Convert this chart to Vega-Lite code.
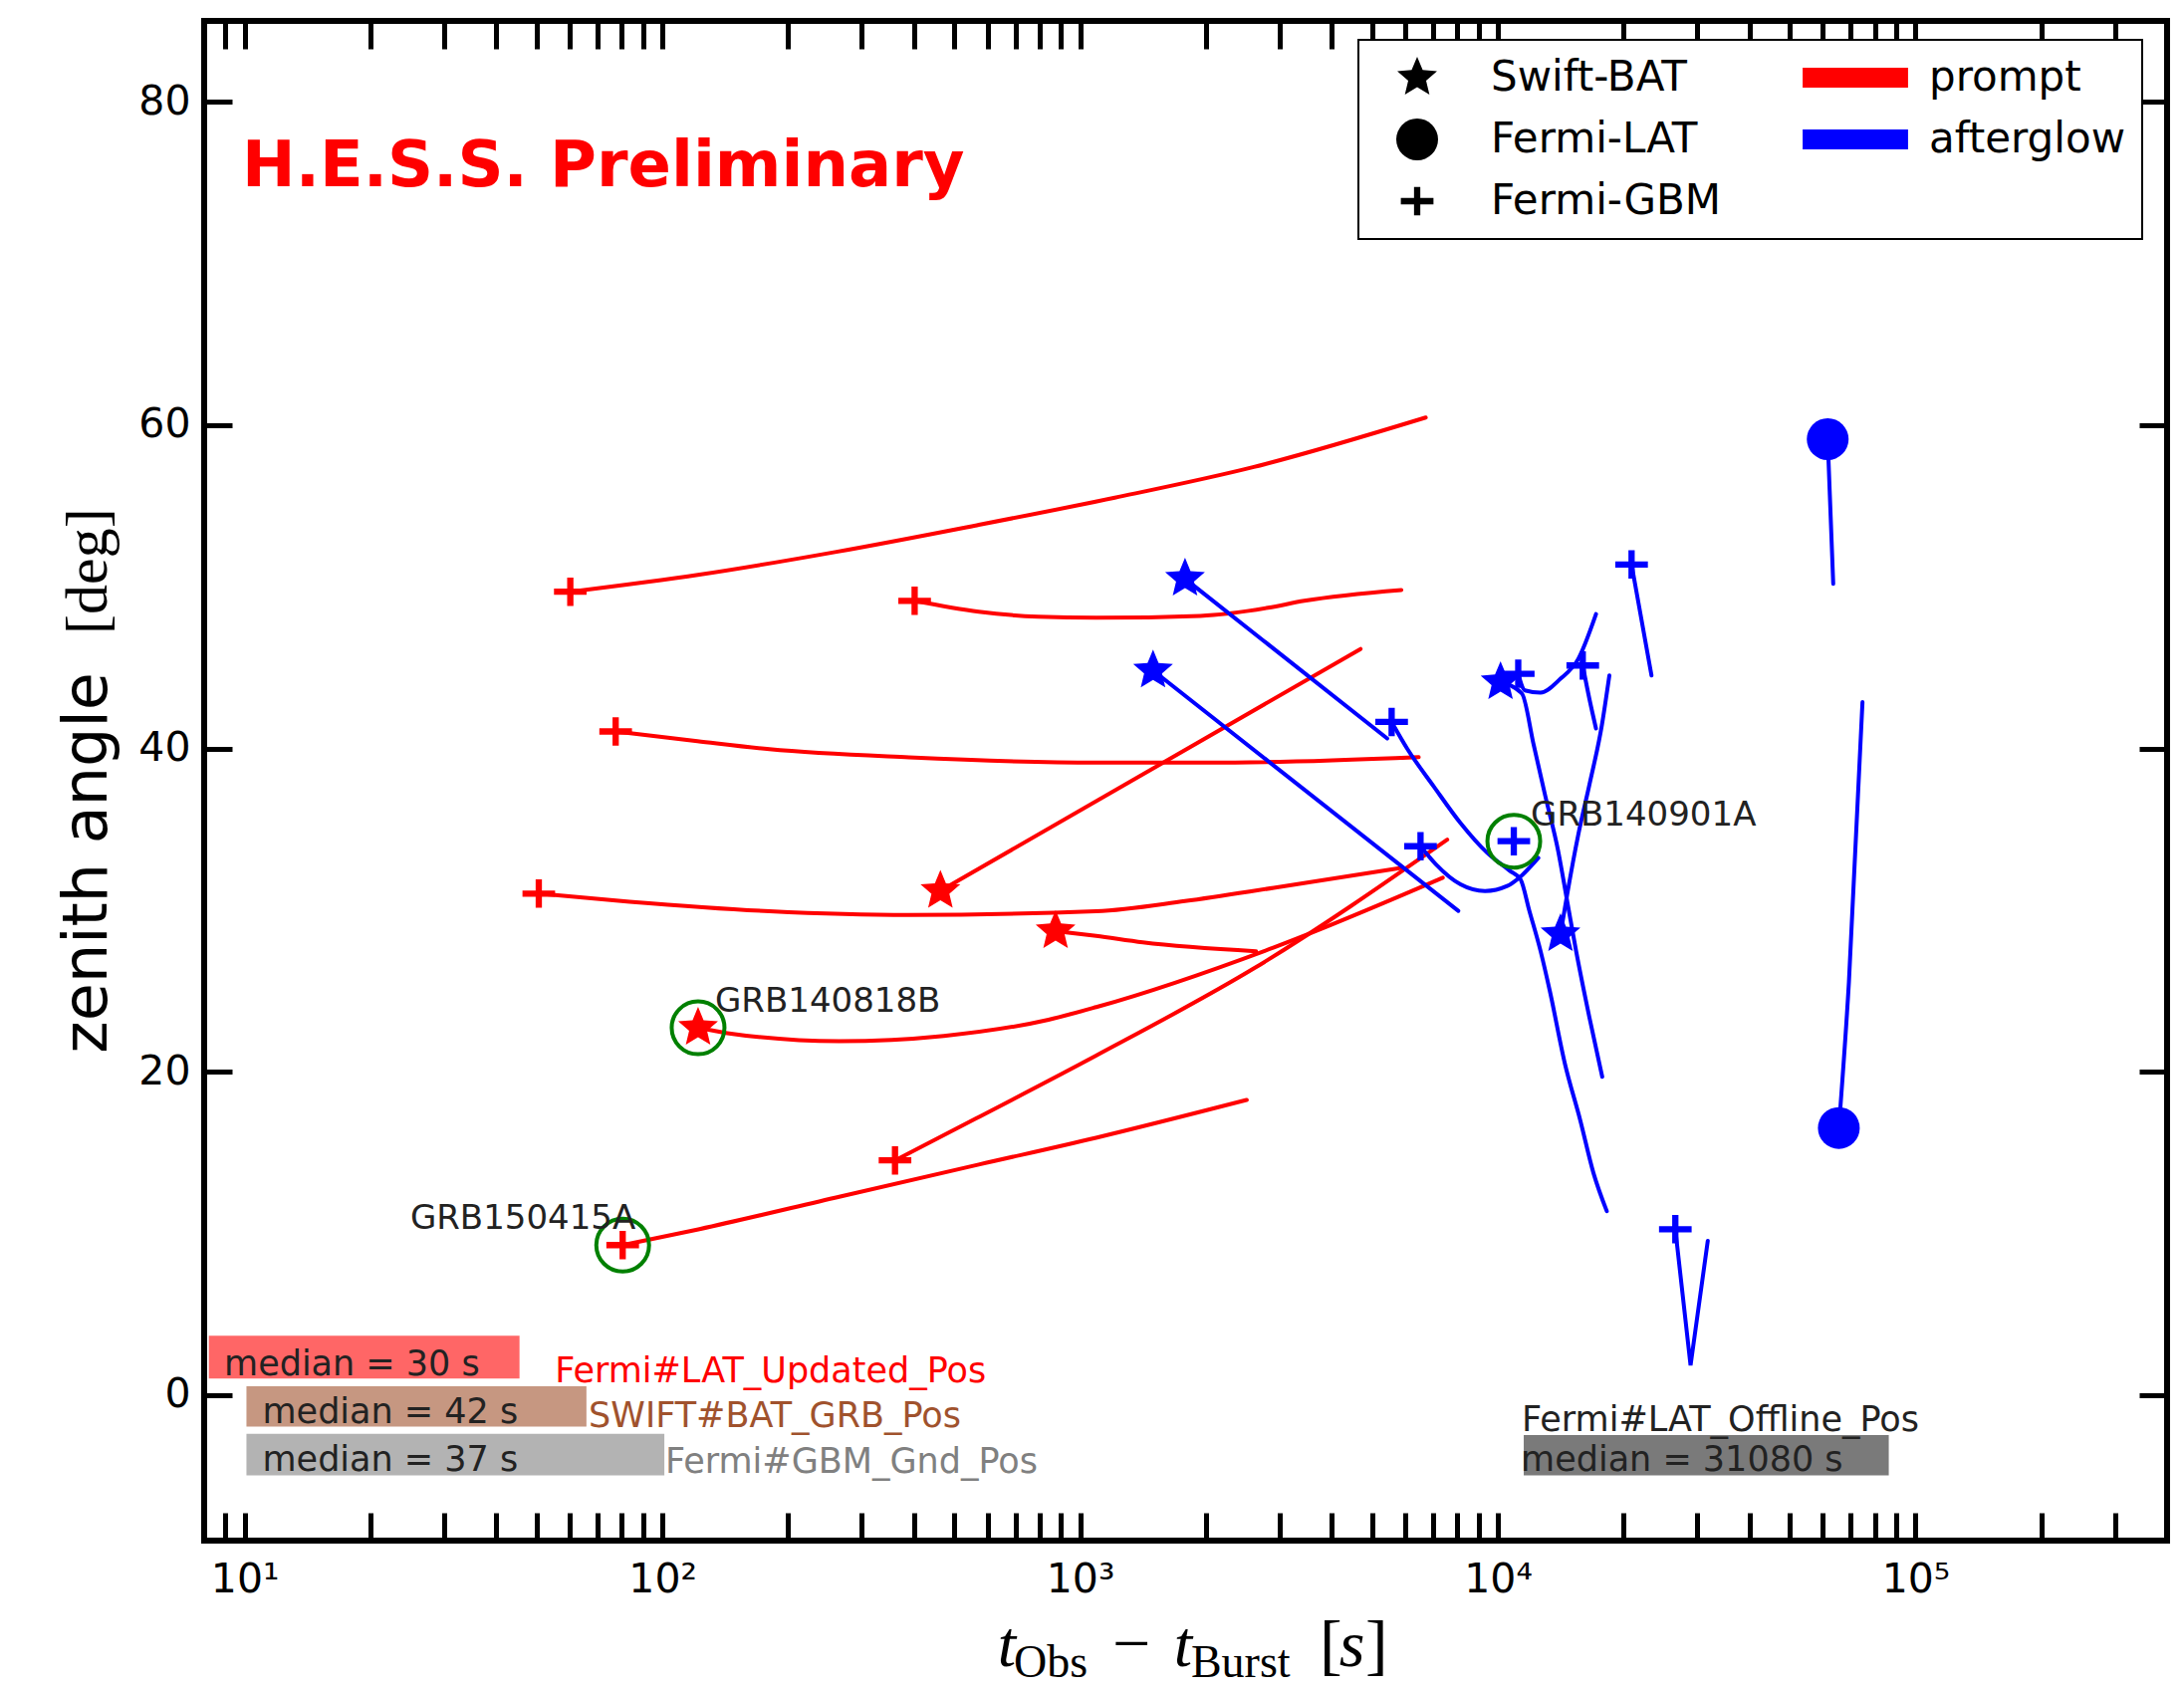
{
  "$schema": "https://vega.github.io/schema/vega-lite/v6.json",
  "width": 1971,
  "height": 1526,
  "autosize": {"type": "none"},
  "padding": {"left": 205, "top": 21, "right": 17, "bottom": 149},
  "background": "white",
  "config": {
    "view": {"stroke": "black", "strokeWidth": 6},
    "font": "DejaVu Sans",
    "legend": {
      "orient": "none", "legendX": 1159, "legendY": 19, "columns": 2,
      "symbolSize": 1764, "symbolStrokeWidth": 0, "symbolOffset": 21,
      "labelFont": "DejaVu Sans", "labelFontSize": 42, "labelColor": "black",
      "labelOffset": 53, "labelLimit": 500, "rowPadding": 20, "columnPadding": 81, "padding": 17,
      "strokeColor": "black", "strokeWidth": 2, "fillColor": "white"
    }
  },
  "datasets": {
    "tracks": [
      {"id": "R1", "phase": "prompt", "t": 60.2, "z": 49.69}, {"id": "R1", "phase": "prompt", "t": 122.7, "z": 50.75}, {"id": "R1", "phase": "prompt", "t": 261, "z": 52.16}, {"id": "R1", "phase": "prompt", "t": 562, "z": 53.79}, {"id": "R1", "phase": "prompt", "t": 1211, "z": 55.51}, {"id": "R1", "phase": "prompt", "t": 2606, "z": 57.41}, {"id": "R1", "phase": "prompt", "t": 6720, "z": 60.47},
      {"id": "R2", "phase": "prompt", "t": 401.7, "z": 49.13}, {"id": "R2", "phase": "prompt", "t": 572, "z": 48.45}, {"id": "R2", "phase": "prompt", "t": 794, "z": 48.15}, {"id": "R2", "phase": "prompt", "t": 1093, "z": 48.08}, {"id": "R2", "phase": "prompt", "t": 1939, "z": 48.2}, {"id": "R2", "phase": "prompt", "t": 2818, "z": 48.7}, {"id": "R2", "phase": "prompt", "t": 3440, "z": 49.13}, {"id": "R2", "phase": "prompt", "t": 5875, "z": 49.8},
      {"id": "R3", "phase": "prompt", "t": 77.3, "z": 41.05}, {"id": "R3", "phase": "prompt", "t": 121.3, "z": 40.45}, {"id": "R3", "phase": "prompt", "t": 180.4, "z": 39.95}, {"id": "R3", "phase": "prompt", "t": 389.4, "z": 39.45}, {"id": "R3", "phase": "prompt", "t": 1093, "z": 39.12}, {"id": "R3", "phase": "prompt", "t": 2348, "z": 39.13}, {"id": "R3", "phase": "prompt", "t": 6466, "z": 39.46},
      {"id": "R4", "phase": "prompt", "t": 50.6, "z": 31.02}, {"id": "R4", "phase": "prompt", "t": 83.5, "z": 30.52}, {"id": "R4", "phase": "prompt", "t": 180.4, "z": 29.93}, {"id": "R4", "phase": "prompt", "t": 389.4, "z": 29.7}, {"id": "R4", "phase": "prompt", "t": 1093, "z": 29.93}, {"id": "R4", "phase": "prompt", "t": 1783, "z": 30.56}, {"id": "R4", "phase": "prompt", "t": 2910, "z": 31.38}, {"id": "R4", "phase": "prompt", "t": 5920, "z": 32.62},
      {"id": "R5", "phase": "prompt", "t": 463, "z": 31.19}, {"id": "R5", "phase": "prompt", "t": 4692, "z": 46.15},
      {"id": "R6", "phase": "prompt", "t": 873.6, "z": 28.7}, {"id": "R6", "phase": "prompt", "t": 1093, "z": 28.4}, {"id": "R6", "phase": "prompt", "t": 1413, "z": 28.0}, {"id": "R6", "phase": "prompt", "t": 2638, "z": 27.45},
      {"id": "R7", "phase": "prompt", "t": 121.75, "z": 22.72}, {"id": "R7", "phase": "prompt", "t": 143.1, "z": 22.39}, {"id": "R7", "phase": "prompt", "t": 265, "z": 21.89}, {"id": "R7", "phase": "prompt", "t": 472, "z": 22.22}, {"id": "R7", "phase": "prompt", "t": 840, "z": 23.22}, {"id": "R7", "phase": "prompt", "t": 1093, "z": 24.0}, {"id": "R7", "phase": "prompt", "t": 2910, "z": 27.69}, {"id": "R7", "phase": "prompt", "t": 7382, "z": 32.0},
      {"id": "R8", "phase": "prompt", "t": 360.5, "z": 14.52}, {"id": "R8", "phase": "prompt", "t": 562.3, "z": 17.1}, {"id": "R8", "phase": "prompt", "t": 1092, "z": 21.0}, {"id": "R8", "phase": "prompt", "t": 2609, "z": 26.4}, {"id": "R8", "phase": "prompt", "t": 7566, "z": 34.36},
      {"id": "R9", "phase": "prompt", "t": 80.35, "z": 9.28}, {"id": "R9", "phase": "prompt", "t": 122.7, "z": 10.27}, {"id": "R9", "phase": "prompt", "t": 265, "z": 12.27}, {"id": "R9", "phase": "prompt", "t": 572, "z": 14.26}, {"id": "R9", "phase": "prompt", "t": 1092, "z": 15.92}, {"id": "R9", "phase": "prompt", "t": 2506, "z": 18.26},
      {"id": "A1", "phase": "afterglow", "t": 1783, "z": 50.5}, {"id": "A1", "phase": "afterglow", "t": 5434, "z": 40.62},
      {"id": "A2", "phase": "afterglow", "t": 1495, "z": 44.82}, {"id": "A2", "phase": "afterglow", "t": 8040, "z": 29.95},
      {"id": "A3", "phase": "afterglow", "t": 5569, "z": 41.64}, {"id": "A3", "phase": "afterglow", "t": 6067, "z": 39.99}, {"id": "A3", "phase": "afterglow", "t": 7028, "z": 37.64}, {"id": "A3", "phase": "afterglow", "t": 8141, "z": 35.38}, {"id": "A3", "phase": "afterglow", "t": 9430, "z": 33.54}, {"id": "A3", "phase": "afterglow", "t": 10660, "z": 32.45}, {"id": "A3", "phase": "afterglow", "t": 11332, "z": 31.9}, {"id": "A3", "phase": "afterglow", "t": 11900, "z": 29.95}, {"id": "A3", "phase": "afterglow", "t": 12650, "z": 27.49}, {"id": "A3", "phase": "afterglow", "t": 13310, "z": 25.03}, {"id": "A3", "phase": "afterglow", "t": 14470, "z": 20.51}, {"id": "A3", "phase": "afterglow", "t": 15740, "z": 17.03}, {"id": "A3", "phase": "afterglow", "t": 16940, "z": 13.74}, {"id": "A3", "phase": "afterglow", "t": 18230, "z": 11.38},
      {"id": "A4", "phase": "afterglow", "t": 6530, "z": 33.95}, {"id": "A4", "phase": "afterglow", "t": 7115, "z": 32.82}, {"id": "A4", "phase": "afterglow", "t": 8141, "z": 31.59}, {"id": "A4", "phase": "afterglow", "t": 9315, "z": 31.18}, {"id": "A4", "phase": "afterglow", "t": 10530, "z": 31.49}, {"id": "A4", "phase": "afterglow", "t": 11470, "z": 32.2}, {"id": "A4", "phase": "afterglow", "t": 12500, "z": 33.23},
      {"id": "A5", "phase": "afterglow", "t": 11190, "z": 44.62}, {"id": "A5", "phase": "afterglow", "t": 11610, "z": 43.59}, {"id": "A5", "phase": "afterglow", "t": 12650, "z": 43.45}, {"id": "A5", "phase": "afterglow", "t": 14125, "z": 44.31}, {"id": "A5", "phase": "afterglow", "t": 15580, "z": 45.54}, {"id": "A5", "phase": "afterglow", "t": 17180, "z": 48.31},
      {"id": "A6", "phase": "afterglow", "t": 10150, "z": 44.1}, {"id": "A6", "phase": "afterglow", "t": 11420, "z": 43.39}, {"id": "A6", "phase": "afterglow", "t": 12190, "z": 40.2}, {"id": "A6", "phase": "afterglow", "t": 12970, "z": 37.13}, {"id": "A6", "phase": "afterglow", "t": 13950, "z": 33.64}, {"id": "A6", "phase": "afterglow", "t": 14655, "z": 30.56}, {"id": "A6", "phase": "afterglow", "t": 15390, "z": 27.49}, {"id": "A6", "phase": "afterglow", "t": 16560, "z": 23.38}, {"id": "A6", "phase": "afterglow", "t": 17780, "z": 19.69},
      {"id": "A7", "phase": "afterglow", "t": 15970, "z": 45.13}, {"id": "A7", "phase": "afterglow", "t": 16560, "z": 43.08}, {"id": "A7", "phase": "afterglow", "t": 17180, "z": 41.23},
      {"id": "A8", "phase": "afterglow", "t": 14125, "z": 28.51}, {"id": "A8", "phase": "afterglow", "t": 14655, "z": 30.97}, {"id": "A8", "phase": "afterglow", "t": 15580, "z": 34.67}, {"id": "A8", "phase": "afterglow", "t": 16560, "z": 37.74}, {"id": "A8", "phase": "afterglow", "t": 17740, "z": 41.43}, {"id": "A8", "phase": "afterglow", "t": 18490, "z": 44.51},
      {"id": "A9", "phase": "afterglow", "t": 20900, "z": 51.38}, {"id": "A9", "phase": "afterglow", "t": 23330, "z": 44.51},
      {"id": "A10", "phase": "afterglow", "t": 26600, "z": 10.26}, {"id": "A10", "phase": "afterglow", "t": 28930, "z": 1.84}, {"id": "A10", "phase": "afterglow", "t": 31810, "z": 9.54},
      {"id": "A11", "phase": "afterglow", "t": 61610, "z": 59.13}, {"id": "A11", "phase": "afterglow", "t": 63520, "z": 50.18},
      {"id": "A12", "phase": "afterglow", "t": 65510, "z": 16.52}, {"id": "A12", "phase": "afterglow", "t": 69250, "z": 25.54}, {"id": "A12", "phase": "afterglow", "t": 74630, "z": 42.86}
    ],
    "markers": [
      {"phase": "prompt", "instrument": "Fermi-GBM", "t": 60.2, "z": 49.69},
      {"phase": "prompt", "instrument": "Fermi-GBM", "t": 401.7, "z": 49.13},
      {"phase": "prompt", "instrument": "Fermi-GBM", "t": 77.3, "z": 41.05},
      {"phase": "prompt", "instrument": "Fermi-GBM", "t": 50.6, "z": 31.02},
      {"phase": "prompt", "instrument": "Fermi-GBM", "t": 360.5, "z": 14.52},
      {"phase": "prompt", "instrument": "Fermi-GBM", "t": 80.35, "z": 9.28},
      {"phase": "prompt", "instrument": "Swift-BAT", "t": 463, "z": 31.19},
      {"phase": "prompt", "instrument": "Swift-BAT", "t": 873.6, "z": 28.7},
      {"phase": "prompt", "instrument": "Swift-BAT", "t": 121.75, "z": 22.72},
      {"phase": "afterglow", "instrument": "Swift-BAT", "t": 1783, "z": 50.5},
      {"phase": "afterglow", "instrument": "Swift-BAT", "t": 1495, "z": 44.82},
      {"phase": "afterglow", "instrument": "Swift-BAT", "t": 10150, "z": 44.1},
      {"phase": "afterglow", "instrument": "Swift-BAT", "t": 14125, "z": 28.51},
      {"phase": "afterglow", "instrument": "Fermi-GBM", "t": 5569, "z": 41.64},
      {"phase": "afterglow", "instrument": "Fermi-GBM", "t": 6530, "z": 33.95},
      {"phase": "afterglow", "instrument": "Fermi-GBM", "t": 10920, "z": 34.26},
      {"phase": "afterglow", "instrument": "Fermi-GBM", "t": 11190, "z": 44.62},
      {"phase": "afterglow", "instrument": "Fermi-GBM", "t": 15970, "z": 45.13},
      {"phase": "afterglow", "instrument": "Fermi-GBM", "t": 20900, "z": 51.38},
      {"phase": "afterglow", "instrument": "Fermi-GBM", "t": 26600, "z": 10.26},
      {"phase": "afterglow", "instrument": "Fermi-LAT", "t": 61610, "z": 59.13},
      {"phase": "afterglow", "instrument": "Fermi-LAT", "t": 65510, "z": 16.52}
    ],
    "highlights": [
      {"grb": "GRB140818B", "t": 121.75, "z": 22.72},
      {"grb": "GRB150415A", "t": 80.35, "z": 9.28},
      {"grb": "GRB140901A", "t": 10920, "z": 34.26}
    ],
    "medianBoxes": [
      {"src": "Fermi#LAT_Updated_Pos", "t0": 8.21, "t1": 45.5, "z0": 1.02, "z1": 3.67},
      {"src": "SWIFT#BAT_GRB_Pos", "t0": 10.1, "t1": 65.8, "z0": -1.95, "z1": 0.55},
      {"src": "Fermi#GBM_Gnd_Pos", "t0": 10.1, "t1": 101.1, "z0": -4.96, "z1": -2.4},
      {"src": "Fermi#LAT_Offline_Pos", "t0": 11535, "t1": 86270, "z0": -4.96, "z1": -2.47}
    ],
    "medianTexts": [
      {"txt": "median = 30 s", "t": 8.93, "z": 1.2},
      {"txt": "median = 42 s", "t": 11.03, "z": -1.72},
      {"txt": "median = 37 s", "t": 11.03, "z": -4.69},
      {"txt": "median = 31080 s", "t": 11350, "z": -4.69}
    ],
    "sourceLabels": [
      {"src": "Fermi#LAT_Updated_Pos", "t": 55.3, "z": 0.8},
      {"src": "SWIFT#BAT_GRB_Pos", "t": 66.6, "z": -1.95},
      {"src": "Fermi#GBM_Gnd_Pos", "t": 101.6, "z": -4.79},
      {"src": "Fermi#LAT_Offline_Pos", "t": 11410, "z": -2.24}
    ],
    "annotations": [
      {"piece": "H.E.S.S. Preliminary", "t": 9.86, "z": 74.77},
      {"piece": "zenith angle", "t": 4.67, "z": 21.14},
      {"piece": "[deg]", "t": 4.67, "z": 47.06},
      {"piece": "t", "t": 635, "z": -16.75},
      {"piece": "Obs", "t": 694, "z": -17.45},
      {"piece": "−", "t": 1195, "z": -16.75},
      {"piece": "t", "t": 1676, "z": -16.75},
      {"piece": "Burst", "t": 1843, "z": -17.45},
      {"piece": "[", "t": 3744, "z": -16.85},
      {"piece": "s", "t": 4169, "z": -16.75},
      {"piece": "]", "t": 4818, "z": -16.85}
    ]
  },
  "resolve": {"axis": {"x": "independent", "y": "independent"}},
  "layer": [
    {
      "data": {"name": "medianBoxes"},
      "mark": {"type": "rect", "opacity": 0.6},
      "encoding": {
        "x": {"field": "t0", "type": "quantitative", "scale": {"type": "log", "domain": [8, 400000], "nice": false}, "axis": null},
        "x2": {"field": "t1"},
        "y": {"field": "z0", "type": "quantitative", "scale": {"domain": [-9, 85], "nice": false, "zero": false}, "axis": null},
        "y2": {"field": "z1"},
        "fill": {"field": "src", "type": "nominal", "legend": null,
          "scale": {"domain": ["Fermi#LAT_Updated_Pos", "SWIFT#BAT_GRB_Pos", "Fermi#GBM_Gnd_Pos", "Fermi#LAT_Offline_Pos"], "range": ["#ff0000", "#a0522d", "#808080", "#222222"]}}
      }
    },
    {
      "data": {"name": "medianTexts"},
      "mark": {"type": "text", "align": "left", "baseline": "alphabetic", "font": "DejaVu Sans", "fontSize": 35, "color": "#222222"},
      "encoding": {
        "x": {"field": "t", "type": "quantitative", "axis": null},
        "y": {"field": "z", "type": "quantitative", "axis": null},
        "text": {"field": "txt"}
      }
    },
    {
      "data": {"name": "sourceLabels"},
      "mark": {"type": "text", "align": "left", "baseline": "alphabetic", "font": "DejaVu Sans", "fontSize": 35},
      "encoding": {
        "x": {"field": "t", "type": "quantitative", "axis": null},
        "y": {"field": "z", "type": "quantitative", "axis": null},
        "fill": {"field": "src", "type": "nominal", "legend": null},
        "text": {"field": "src"}
      }
    },
    {
      "data": {"name": "tracks"},
      "transform": [{"filter": "datum.id != 'A10'"}],
      "mark": {"type": "line", "strokeWidth": 4, "interpolate": "monotone", "strokeCap": "round", "strokeJoin": "round"},
      "encoding": {
        "x": {"field": "t", "type": "quantitative", "axis": null},
        "y": {"field": "z", "type": "quantitative", "axis": null},
        "detail": {"field": "id"},
        "stroke": {"field": "phase", "type": "nominal", "legend": null,
          "scale": {"domain": ["prompt", "afterglow"], "range": ["#ff0000", "#0000ff"]}}
      }
    },
    {
      "data": {"name": "tracks"},
      "transform": [{"filter": "datum.id == 'A10'"}],
      "mark": {"type": "line", "strokeWidth": 4, "strokeCap": "round", "strokeJoin": "miter"},
      "encoding": {
        "x": {"field": "t", "type": "quantitative", "axis": null},
        "y": {"field": "z", "type": "quantitative", "axis": null},
        "detail": {"field": "id"},
        "stroke": {"field": "phase", "type": "nominal", "legend": null}
      }
    },
    {
      "data": {"name": "markers"},
      "mark": {"type": "point", "filled": true, "opacity": 1, "size": 1764, "strokeWidth": 0},
      "encoding": {
        "x": {"field": "t", "type": "quantitative",
          "axis": {"orient": "bottom", "title": null, "domain": false, "grid": false,
            "values": [9, 10, 20, 30, 40, 50, 60, 70, 80, 90, 100, 200, 300, 400, 500, 600, 700, 800, 900, 1000, 2000, 3000, 4000, 5000, 6000, 7000, 8000, 9000, 10000, 20000, 30000, 40000, 50000, 60000, 70000, 80000, 90000, 100000, 200000, 300000],
            "labelExpr": "datum.value == 10 ? '10¹' : datum.value == 100 ? '10²' : datum.value == 1000 ? '10³' : datum.value == 10000 ? '10⁴' : datum.value == 100000 ? '10⁵' : ''",
            "tickSize": -28, "tickWidth": 5, "tickColor": "black",
            "labelFont": "DejaVu Sans", "labelFontSize": 41, "labelColor": "black", "labelPadding": 47,
            "labelBaseline": "top", "labelOverlap": false, "labelFlush": false}},
        "y": {"field": "z", "type": "quantitative",
          "axis": {"orient": "left", "title": null, "domain": false, "grid": false,
            "values": [0, 20, 40, 60, 80],
            "tickSize": -28, "tickWidth": 5, "tickColor": "black",
            "labelFont": "DejaVu Sans", "labelFontSize": 41, "labelColor": "black", "labelPadding": 42,
            "labelOverlap": false, "labelFlush": false}},
        "color": {"field": "phase", "type": "nominal",
          "scale": {"domain": ["Swift-BAT", "Fermi-LAT", "Fermi-GBM", "prompt", "afterglow"], "range": ["black", "black", "black", "#ff0000", "#0000ff"]},
          "legend": {"title": null}},
        "shape": {"field": "instrument", "type": "nominal",
          "scale": {"domain": ["Swift-BAT", "Fermi-LAT", "Fermi-GBM", "prompt", "afterglow"],
            "range": [
              "M0,-1L0.2645,-0.3641L0.9511,-0.309L0.428,0.1391L0.5878,0.809L0,0.45L-0.5878,0.809L-0.428,0.1391L-0.9511,-0.309L-0.2645,-0.3641Z",
              "circle",
              "M-0.78,-0.15L-0.15,-0.15L-0.15,-0.68L0.15,-0.68L0.15,-0.15L0.78,-0.15L0.78,0.15L0.15,0.15L0.15,0.68L-0.15,0.68L-0.15,0.15L-0.78,0.15Z",
              "M-2.52,-0.48L2.52,-0.48L2.52,0.48L-2.52,0.48Z",
              "M-2.52,-0.48L2.52,-0.48L2.52,0.48L-2.52,0.48Z"
            ]},
          "legend": {"title": null}}
      }
    },
    {
      "data": {"name": "highlights"},
      "mark": {"type": "point", "shape": "circle", "filled": false, "opacity": 1, "size": 2809, "stroke": "#008000", "strokeWidth": 4},
      "encoding": {
        "x": {"field": "t", "type": "quantitative",
          "axis": {"orient": "top", "title": null, "domain": false, "grid": false, "labels": false,
            "values": [9, 10, 20, 30, 40, 50, 60, 70, 80, 90, 100, 200, 300, 400, 500, 600, 700, 800, 900, 1000, 2000, 3000, 4000, 5000, 6000, 7000, 8000, 9000, 10000, 20000, 30000, 40000, 50000, 60000, 70000, 80000, 90000, 100000, 200000, 300000],
            "tickSize": -28, "tickWidth": 5, "tickColor": "black"}},
        "y": {"field": "z", "type": "quantitative",
          "axis": {"orient": "right", "title": null, "domain": false, "grid": false, "labels": false,
            "values": [0, 20, 40, 60, 80], "tickSize": -28, "tickWidth": 5, "tickColor": "black"}}
      }
    },
    {
      "data": {"name": "highlights"},
      "transform": [{"filter": "datum.grb != 'GRB150415A'"}],
      "mark": {"type": "text", "align": "left", "baseline": "alphabetic", "dx": 17, "dy": -16, "font": "DejaVu Sans", "fontSize": 34, "color": "#222222"},
      "encoding": {
        "x": {"field": "t", "type": "quantitative", "axis": null},
        "y": {"field": "z", "type": "quantitative", "axis": null},
        "text": {"field": "grb"}
      }
    },
    {
      "data": {"name": "highlights"},
      "transform": [{"filter": "datum.grb == 'GRB150415A'"}],
      "mark": {"type": "text", "align": "right", "baseline": "alphabetic", "dx": 13, "dy": -16, "font": "DejaVu Sans", "fontSize": 34, "color": "#222222"},
      "encoding": {
        "x": {"field": "t", "type": "quantitative", "axis": null},
        "y": {"field": "z", "type": "quantitative", "axis": null},
        "text": {"field": "grb"}
      }
    },
    {
      "data": {"name": "annotations"},
      "transform": [{"filter": "datum.piece == 'H.E.S.S. Preliminary'"}],
      "mark": {"type": "text", "align": "left", "baseline": "alphabetic", "font": "DejaVu Sans", "fontWeight": "bold", "fontSize": 64, "color": "#ff0000"},
      "encoding": {
        "x": {"field": "t", "type": "quantitative", "axis": null},
        "y": {"field": "z", "type": "quantitative", "axis": null},
        "text": {"field": "piece"}
      }
    },
    {
      "data": {"name": "annotations"},
      "transform": [{"filter": "datum.piece == 'zenith angle'"}],
      "mark": {"type": "text", "align": "left", "baseline": "alphabetic", "angle": 270, "font": "DejaVu Sans", "fontSize": 62, "color": "black"},
      "encoding": {
        "x": {"field": "t", "type": "quantitative", "axis": null},
        "y": {"field": "z", "type": "quantitative", "axis": null},
        "text": {"field": "piece"}
      }
    },
    {
      "data": {"name": "annotations"},
      "transform": [{"filter": "datum.piece == '[deg]'"}],
      "mark": {"type": "text", "align": "left", "baseline": "alphabetic", "angle": 270, "font": "Liberation Serif", "fontSize": 60, "color": "black"},
      "encoding": {
        "x": {"field": "t", "type": "quantitative", "axis": null},
        "y": {"field": "z", "type": "quantitative", "axis": null},
        "text": {"field": "piece"}
      }
    },
    {
      "data": {"name": "annotations"},
      "transform": [{"filter": "datum.piece == 't' || datum.piece == 's'"}],
      "mark": {"type": "text", "align": "left", "baseline": "alphabetic", "font": "Liberation Serif", "fontStyle": "italic", "fontSize": 66, "color": "black"},
      "encoding": {
        "x": {"field": "t", "type": "quantitative", "axis": null},
        "y": {"field": "z", "type": "quantitative", "axis": null},
        "text": {"field": "piece"}
      }
    },
    {
      "data": {"name": "annotations"},
      "transform": [{"filter": "datum.piece == 'Obs' || datum.piece == 'Burst'"}],
      "mark": {"type": "text", "align": "left", "baseline": "alphabetic", "font": "Liberation Serif", "fontSize": 46, "color": "black"},
      "encoding": {
        "x": {"field": "t", "type": "quantitative", "axis": null},
        "y": {"field": "z", "type": "quantitative", "axis": null},
        "text": {"field": "piece"}
      }
    },
    {
      "data": {"name": "annotations"},
      "transform": [{"filter": "datum.piece == '−' || datum.piece == '[' || datum.piece == ']'"}],
      "mark": {"type": "text", "align": "left", "baseline": "alphabetic", "font": "Liberation Serif", "fontSize": 68, "color": "black"},
      "encoding": {
        "x": {"field": "t", "type": "quantitative", "axis": null},
        "y": {"field": "z", "type": "quantitative", "axis": null},
        "text": {"field": "piece"}
      }
    }
  ]
}
